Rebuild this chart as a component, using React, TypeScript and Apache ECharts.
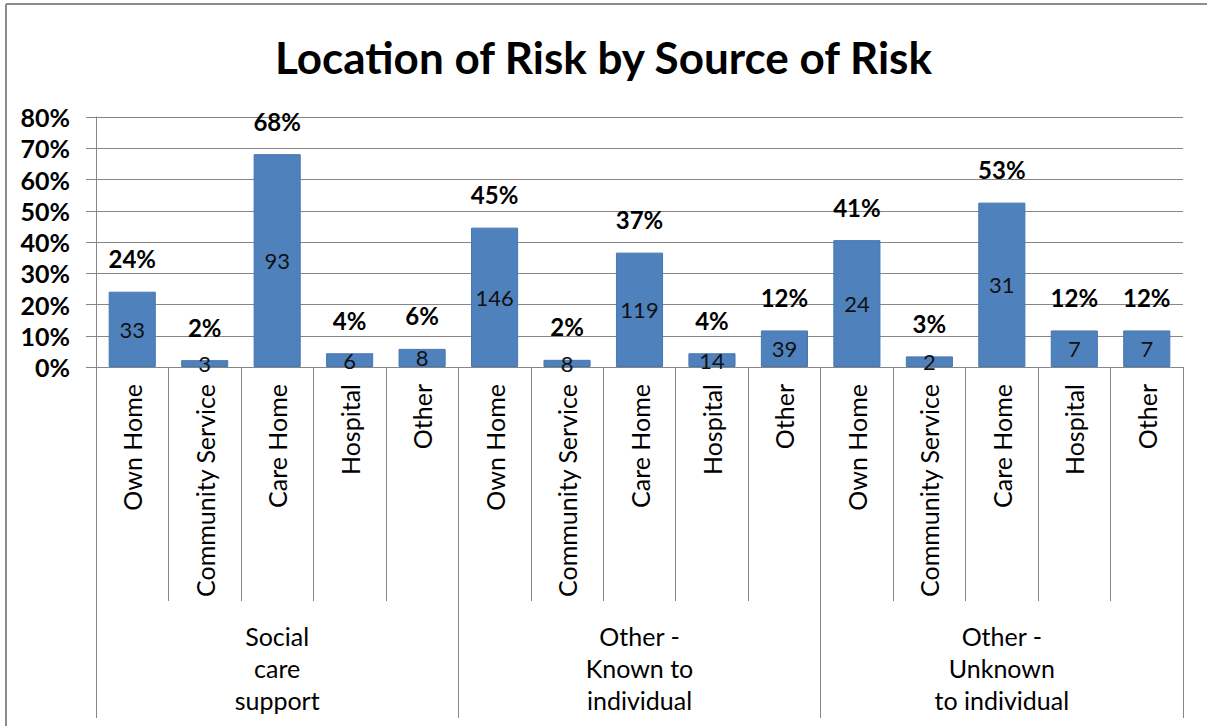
import React, { useEffect, useRef } from "react";
import * as echarts from "echarts";

const categories = [
  "Own Home", "Community Service", "Care Home", "Hospital", "Other",
  "Own Home", "Community Service", "Care Home", "Hospital", "Other",
  "Own Home", "Community Service", "Care Home", "Hospital", "Other",
];
const groups = ["Social\ncare\nsupport", "Other -\nKnown to\nindividual", "Other -\nUnknown\nto individual"];
const percentValues = [
  0.241, 0.022, 0.681, 0.044, 0.058,
  0.446, 0.023, 0.366, 0.044, 0.117,
  0.406, 0.034, 0.526, 0.117, 0.117,
];
const counts = [33, 3, 93, 6, 8, 146, 8, 119, 14, 39, 24, 2, 31, 7, 7];
const yTicks = [0, 0.1, 0.2, 0.3, 0.4, 0.5, 0.6, 0.7, 0.8];

const FONT = "Lato, 'Open Sans', sans-serif";
const GRID = "#868686";

export default function App() {
  const ref = useRef<HTMLDivElement>(null);
  useEffect(() => {
    if (!ref.current) return;
    const chart = echarts.init(ref.current, undefined, { renderer: "svg" });
    chart.setOption({
      animation: false,
      backgroundColor: "#ffffff",
      textStyle: { fontFamily: FONT },
      title: {
        text: "Location of Risk by Source of Risk",
        left: "center",
        top: 30,
        textStyle: { fontFamily: FONT, fontSize: 44, fontWeight: "bold", color: "#000" },
      },
      graphic: [
        { type: "line", shape: { x1: 6, y1: 4, x2: 1207, y2: 4 }, style: { stroke: "#8c8c8c", lineWidth: 2 } },
        { type: "line", shape: { x1: 6, y1: 4, x2: 6, y2: 726 }, style: { stroke: "#8c8c8c", lineWidth: 2 } },
      ],
      grid: { left: 96, right: 24, top: 117, bottom: 359 },
      xAxis: [
        {
          type: "category",
          data: categories,
          position: "bottom",
          axisLine: { show: true, lineStyle: { color: GRID, width: 1 } },
          axisTick: { show: true, interval: 0, length: 234, lineStyle: { color: GRID } },
          axisLabel: {
            interval: 0,
            rotate: 90,
            margin: 17,
            fontSize: 25,
            color: "#000",
            fontFamily: FONT,
          },
        },
        {
          type: "category",
          data: groups,
          position: "bottom",
          axisLine: { show: false },
          axisTick: { show: true, interval: 0, length: 351, lineStyle: { color: GRID } },
          axisLabel: {
            interval: 0,
            margin: 253,
            fontSize: 25,
            lineHeight: 32,
            color: "#000",
            fontFamily: FONT,
            align: "center",
          },
        },
      ],
      yAxis: {
        type: "value",
        min: 0,
        max: 0.8,
        interval: 0.1,
        axisLine: { show: true, lineStyle: { color: GRID } },
        axisTick: { show: true, length: 10, inside: false, lineStyle: { color: GRID } },
        splitLine: { show: true, lineStyle: { color: GRID } },
        axisLabel: {
          margin: 26,
          fontSize: 25,
          fontWeight: "bold",
          color: "#000",
          fontFamily: FONT,
          formatter: (v: number) => {
            const t = yTicks.find((x) => Math.abs(x - v) < 1e-9);
            return Math.round((t ?? v) * 100) + "%";
          },
        },
      },
      series: [
        {
          type: "bar",
          data: percentValues,
          barWidth: "65%",
          itemStyle: { color: "#4F81BD", borderColor: "#4677B2", borderWidth: 1 },
          label: {
            show: true,
            position: "top",
            distance: 21,
            fontSize: 24,
            fontWeight: "bold",
            color: "#000",
            fontFamily: FONT,
            formatter: (p: any) => Math.round(p.value * 100) + "%",
          },
        },
        {
          type: "bar",
          data: percentValues,
          barWidth: "65%",
          barGap: "-100%",
          itemStyle: { color: "rgba(0,0,0,0)" },
          z: 3,
          label: {
            show: true,
            position: "inside",
            fontSize: 22,
            color: "#111",
            fontFamily: FONT,
            formatter: (p: any) => String(counts[p.dataIndex]),
          },
        },
      ],
    });
    return () => chart.dispose();
  }, []);
  return (
    <div
      ref={ref}
      style={{ position: "absolute", left: 0, top: 0, width: 1207, height: 726 }}
    />
  );
}
